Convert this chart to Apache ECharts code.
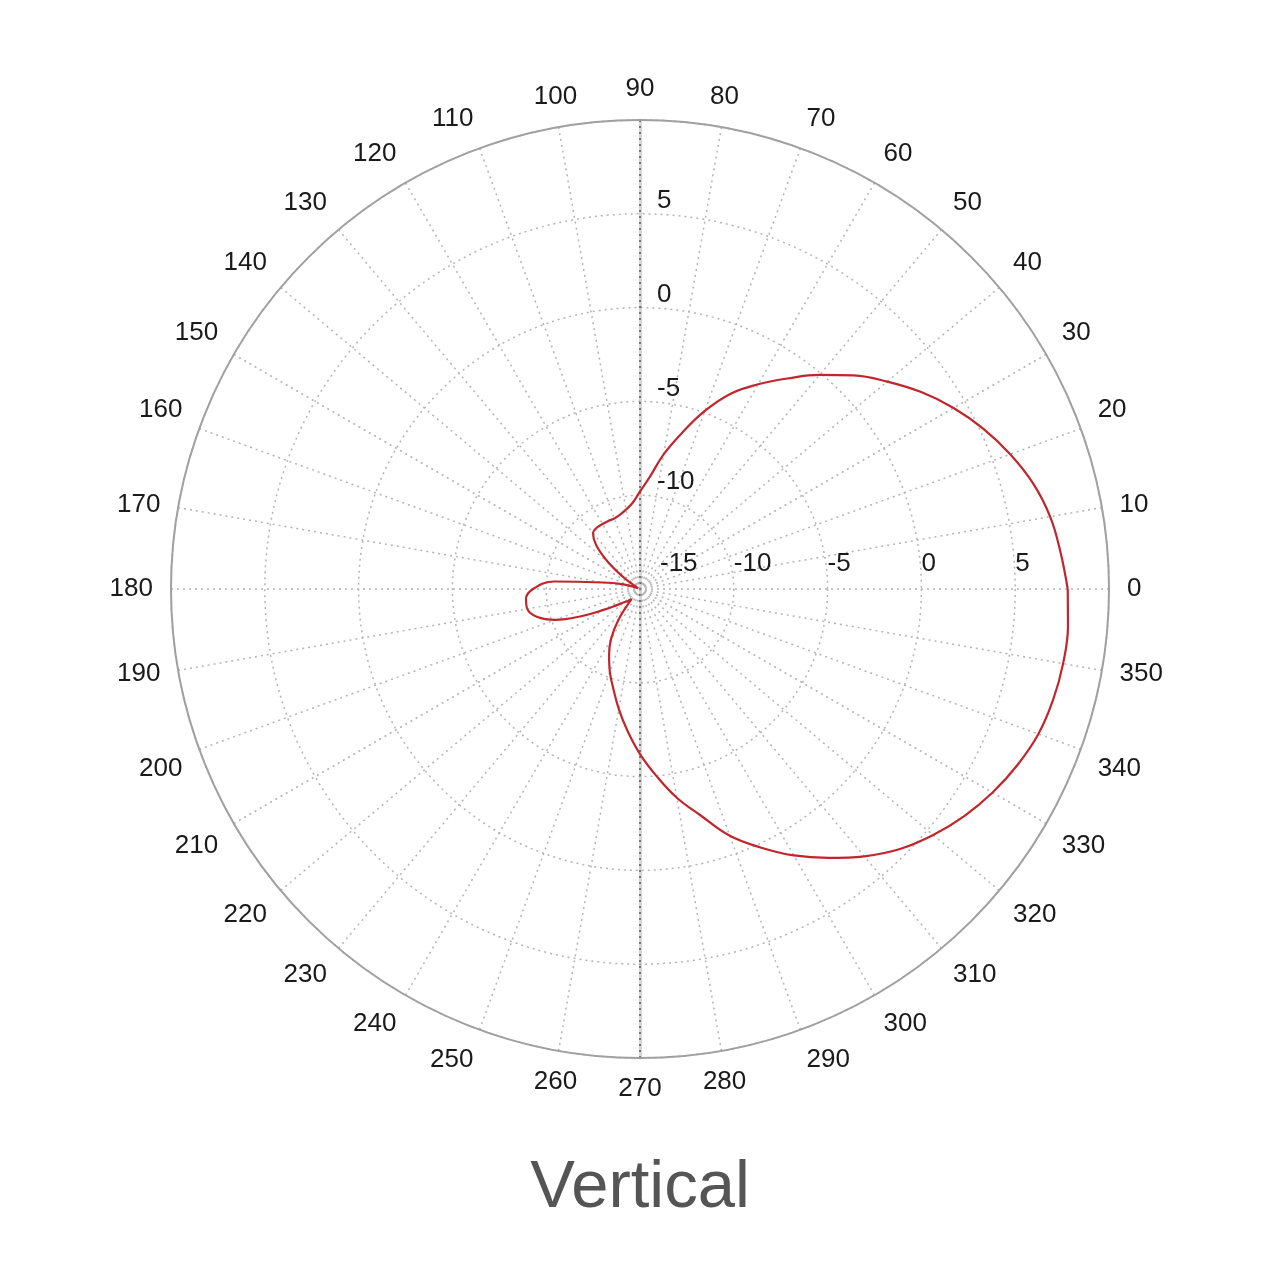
<!DOCTYPE html>
<html>
<head>
<meta charset="utf-8">
<title>Vertical</title>
<script src="https://cdn.jsdelivr.net/npm/echarts@6/dist/echarts.min.js"></script>
<style>
  html, body { margin: 0; padding: 0; background: #fff; }
  #chart { width: 1280px; height: 1280px; }
</style>
</head>
<body>
<div id="chart"></div>
<script>
// pattern: angle in degrees, gain in dB
const angles = [
  0, 5, 10, 15, 20, 25, 30, 35, 40, 45, 50, 55, 60, 65, 70, 75, 80, 85,
  90, 95, 100, 105, 110, 115, 120, 125, 130, 135, 140, 145, 150, 155, 160, 165, 170, 175,
  180, 185, 190, 195, 200, 205, 210, 215, 220, 225, 230, 235, 240, 245, 250, 255, 260, 265,
  270, 275, 280, 285, 290, 295, 300, 305, 310, 315, 320, 325, 330, 335, 340, 345, 350, 355, 360
];
const gain = [
  7.8, 7.5, 7.2, 6.7, 6.0, 5.2, 4.3, 3.3, 2.2, 1.1, -0.1, -1.3, -2.4, -3.5, -4.9, -6.4, -7.7, -9.0,
  -9.8, -10.4, -10.7, -10.9, -11.0, -11.0, -11.0, -11.0, -11.1, -11.7, -12.8, -14.0, -14.7, -14.9, -14.7, -14.0, -13.0, -10.4,
  -9.3, -8.9, -8.9, -9.3, -10.2, -11.6, -12.8, -13.5, -13.9, -14.1, -14.3, -13.0, -11.9, -11.1, -10.3, -9.5, -8.5, -7.4,
  -6.2, -5.0, -3.7, -2.5, -1.0, 0.2, 1.4, 2.5, 3.6, 4.6, 5.4, 6.1, 6.7, 7.2, 7.6, 7.8, 7.9, 7.9, 7.8
];
const gainMin = -15;
const gainMax = 10;
const gainStep = 5;
const angleStep = 10;
const title = 'Vertical';

const center = [640, 589];
const radius = 469;
const labelFont = 'Liberation Sans, Arial, sans-serif';

// darker spokes at 90 / 270, light dotted elsewhere
const spokeColors = Array.from({ length: 18 }, (_, i) => (i === 9 ? '#666' : '#b4b4b4'));

const radialLabel = {
  color: '#1a1a1a',
  fontSize: 26,
  fontFamily: labelFont,
  showMaxLabel: false
};

// hidden angle axis, only used to turn a radius axis to 90 / 270
const hiddenAngle = (polarIndex, startAngle) => ({
  polarIndex,
  type: 'value',
  min: 0,
  max: 360,
  startAngle,
  clockwise: false,
  show: false
});

const chart = echarts.init(document.getElementById('chart'));
chart.setOption({
  animation: false,
  backgroundColor: '#fff',
  title: {
    text: title,
    left: 'center',
    top: 1150,
    textStyle: { color: '#555', fontSize: 67, fontWeight: 'normal', fontFamily: labelFont }
  },
  polar: [
    { center, radius },
    { center, radius },
    { center, radius }
  ],
  angleAxis: [
    {
      polarIndex: 0,
      type: 'value',
      min: 0,
      max: 360,
      interval: angleStep,
      startAngle: 0,
      clockwise: false,
      axisLine: { lineStyle: { color: '#a0a0a0', width: 2 } },
      axisTick: { show: false },
      axisLabel: {
        margin: 18,
        color: '#1a1a1a',
        fontSize: 26,
        fontFamily: labelFont,
        formatter: (v) => (v === 360 ? '' : String(v))
      },
      splitLine: { lineStyle: { color: spokeColors, type: [2, 4], width: 1.5 } }
    },
    hiddenAngle(1, 90),
    hiddenAngle(2, 270)
  ],
  radiusAxis: [
    {
      polarIndex: 0,
      min: gainMin,
      max: gainMax,
      interval: gainStep,
      axisLine: { show: false },
      axisTick: { show: false },
      axisLabel: {
        ...radialLabel,
        showMinLabel: true,
        align: 'left',
        margin: 12,
        // the centre label sits a little clear of the vertical line
        formatter: (v) => (v === gainMin ? `{mid|${v}}` : String(v)),
        rich: { mid: { padding: [0, 0, 0, 20], fontSize: 26, fontFamily: labelFont, color: '#1a1a1a' } }
      },
      splitLine: { lineStyle: { color: '#b4b4b4', type: [2, 4], width: 1.5 } }
    },
    {
      polarIndex: 1,
      min: gainMin,
      max: gainMax,
      interval: gainStep,
      axisLine: { lineStyle: { color: 'rgba(0,0,0,0.16)', width: 3 } },
      axisTick: { show: false },
      axisLabel: { ...radialLabel, showMinLabel: false, align: 'left', verticalAlign: 'bottom', margin: -17 },
      splitLine: { show: false }
    },
    {
      polarIndex: 2,
      min: gainMin,
      max: gainMax,
      interval: gainStep,
      axisLine: { lineStyle: { color: 'rgba(0,0,0,0.16)', width: 3 } },
      axisTick: { show: false },
      axisLabel: { show: false },
      splitLine: { show: false }
    }
  ],
  series: [
    {
      name: title,
      type: 'line',
      coordinateSystem: 'polar',
      polarIndex: 0,
      data: angles.map((a, i) => [gain[i], a]),
      showSymbol: false,
      smooth: 0.4,
      lineStyle: { color: '#c0262c', width: 2.2 }
    }
  ]
});
</script>
</body>
</html>
